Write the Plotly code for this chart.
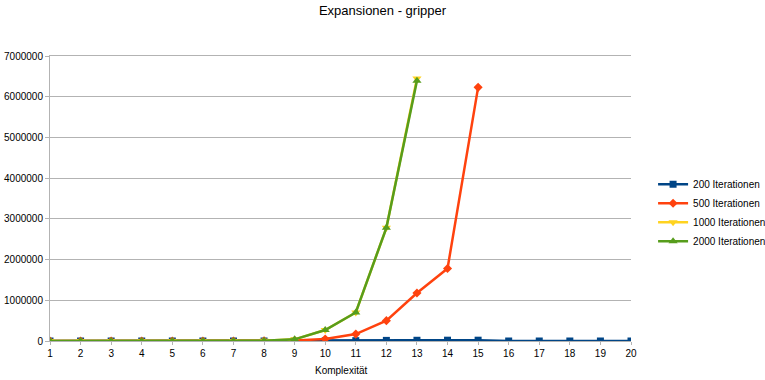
import plotly.graph_objects as go

# Complexity levels (x) and expansion counts per iteration budget
komplexitaet = list(range(1, 21))

exp_200 = [0, 0, 0, 0, 0, 0, 0, 0, 2000, 5000, 8000, 15000, 18000, 20000, 20000,
           0, 0, 0, 0, 0]
exp_500 = [0, 0, 0, 0, 0, 0, 0, 2000, 10000, 50000, 170000, 500000, 1180000,
           1780000, 6230000]
exp_1000 = [0, 0, 0, 0, 0, 0, 0, 5000, 40000, 270000, 700000, 2780000, 6450000]
exp_2000 = [0, 0, 0, 0, 0, 0, 0, 5000, 40000, 270000, 700000, 2780000, 6390000]

y_ticks = [0, 1000000, 2000000, 3000000, 4000000, 5000000, 6000000, 7000000]

series = [
    ("200 Iterationen", exp_200, "#004586", "square", 7),
    ("500 Iterationen", exp_500, "#ff420e", "diamond", 7),
    ("1000 Iterationen", exp_1000, "#ffd320", "triangle-down", 8),
    ("2000 Iterationen", exp_2000, "#579d1c", "triangle-up", 8),
]

fig = go.Figure()
for name, vals, color, symbol, size in series:
    fig.add_trace(go.Scatter(
        x=komplexitaet[:len(vals)], y=vals, name=name, mode="lines+markers",
        line=dict(color=color, width=2.5),
        marker=dict(symbol=symbol, size=size, color=color),
    ))

font = "Liberation Sans, Arial, sans-serif"
fig.update_layout(
    width=765, height=380,
    margin=dict(l=50, r=134, t=56, b=39, autoexpand=False),
    paper_bgcolor="white", plot_bgcolor="white",
    font=dict(family=font, size=10, color="#000000"),
    title=dict(text="Expansionen - gripper", x=0.5, xanchor="center",
               y=0.985, yanchor="top", font=dict(size=13, family=font)),
    legend=dict(x=1.038, xanchor="left", y=0.45, yanchor="middle",
                font=dict(size=10, family=font), tracegroupgap=0,
                itemwidth=30, bgcolor="rgba(0,0,0,0)"),
    showlegend=True,
)
fig.update_xaxes(
    range=[1, 20], tickmode="array", tickvals=komplexitaet,
    ticktext=[str(k) for k in komplexitaet], automargin=False,
    showgrid=False, showline=True, linecolor="#b3b3b3", mirror=True,
    zeroline=False, ticks="outside", ticklen=3, tickcolor="#b3b3b3",
)
fig.update_yaxes(
    range=[0, 7000000], tickmode="array", tickvals=y_ticks,
    ticktext=[str(v) for v in y_ticks], automargin=False,
    showgrid=True, gridcolor="#b3b3b3", gridwidth=1,
    showline=True, linecolor="#b3b3b3", zeroline=False,
    ticks="outside", ticklen=4, tickcolor="#b3b3b3",
)

# x-axis title placed low in the bottom margin
fig.add_annotation(text="Komplexität", xref="paper", yref="paper",
                   x=0.5, y=-0.102, xanchor="center", yanchor="middle",
                   showarrow=False, font=dict(size=10, family=font))

fig.write_html("out.html")
